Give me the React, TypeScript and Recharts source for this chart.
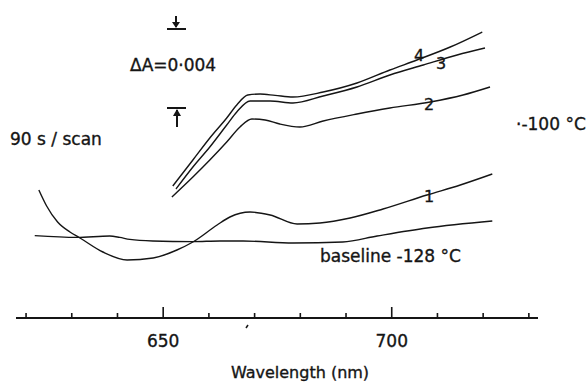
import React from "react";
import { LineChart, Line, XAxis, YAxis } from "recharts";

// wavelength (nm) and relative absorbance (units of 0.001)
const wl1 = [622.8, 624.5, 626.9, 629.6, 631.8, 636.8, 642.1, 647.8, 653.0, 656.5, 661.8, 664.6, 669.0, 673.4, 679.3, 684.3, 690.9, 698.1, 707.7, 715.0, 722.0];
const abs1 = [6.4, 5.6, 4.8, 4.3, 4.0, 3.3, 2.9, 3.0, 3.4, 3.8, 4.65, 5.05, 5.3, 5.15, 4.7, 4.75, 5.0, 5.45, 6.15, 6.65, 7.2];

const wl2 = [651.9, 656.5, 660.2, 663.9, 666.8, 669.4, 672.3, 675.5, 679.9, 685.0, 692.4, 699.6, 708.4, 715.6, 721.5];
const abs2 = [6.05, 7.05, 7.9, 8.8, 9.55, 9.95, 9.9, 9.7, 9.55, 9.85, 10.2, 10.5, 10.8, 11.15, 11.55];

const wl3 = [652.8, 656.5, 660.2, 663.9, 666.1, 669.0, 673.4, 678.4, 685.0, 692.4, 699.6, 706.9, 714.3, 720.4];
const abs3 = [6.45, 7.55, 8.55, 9.65, 10.3, 10.85, 10.85, 10.75, 11.1, 11.55, 12.15, 12.65, 13.15, 13.5];

const wl4 = [652.1, 656.5, 660.2, 663.9, 666.1, 668.5, 671.2, 674.5, 678.4, 685.0, 692.4, 699.6, 705.5, 712.8, 719.8];
const abs4 = [6.6, 7.9, 9.0, 10.0, 10.65, 11.15, 11.2, 11.13, 11.05, 11.3, 11.75, 12.4, 12.9, 13.55, 14.3];

const wlBase = [621.9, 631.1, 638.3, 640.5, 642.7, 647.7, 656.5, 662.4, 667.5, 678.4, 689.3, 696.8, 707.7, 722.0];
const absBase = [4.12, 4.03, 4.1, 4.03, 3.93, 3.85, 3.82, 3.85, 3.85, 3.75, 3.8, 4.1, 4.5, 4.85];

const xTicks = [620, 630, 640, 650, 660, 670, 680, 690, 700, 710, 720, 730];
const labelledTicks = [650, 700];

const zip = (wl: number[], a: number[]) => wl.map((w, i) => ({ wl: w, a: a[i] }));

const curves = [
  { key: "base", data: zip(wlBase, absBase) },
  { key: "c1", data: zip(wl1, abs1) },
  { key: "c2", data: zip(wl2, abs2) },
  { key: "c3", data: zip(wl3, abs3) },
  { key: "c4", data: zip(wl4, abs4) },
];

const ink = "#151515";
const font = "'DejaVu Sans', sans-serif";

const AxisTick = (props: any) => {
  const { x, y, payload } = props;
  const major = labelledTicks.includes(payload.value);
  return (
    <g>
      <line x1={x} x2={x} y1={y} y2={y - (major ? 11 : 5)} stroke={ink} strokeWidth={1.6} />
      {major && (
        <text x={x} y={y + 29} textAnchor="middle" fontSize={17} fontFamily={font} fill={ink} stroke={ink} strokeWidth={0.35}>
          {payload.value}
        </text>
      )}
    </g>
  );
};

export default function App() {
  return (
    <div style={{ position: "absolute", left: 0, top: 0, width: 588, height: 384, background: "#fff" }}>
      <LineChart width={588} height={384} margin={{ top: 18, right: 50, left: 16, bottom: 36 }}>
        <XAxis
          dataKey="wl"
          type="number"
          domain={[617.8, 732]}
          allowDataOverflow
          ticks={xTicks}
          interval={0}
          height={30}
          tickSize={0}
          tickMargin={0}
          tickLine={false}
          axisLine={{ stroke: ink, strokeWidth: 2 }}
          tick={<AxisTick />}
        />
        <YAxis type="number" domain={[0, 15]} hide />
        {curves.map((c) => (
          <Line
            key={c.key}
            data={c.data}
            dataKey="a"
            type="monotone"
            stroke={ink}
            strokeWidth={1.4}
            dot={false}
            isAnimationActive={false}
          />
        ))}
      </LineChart>

      {/* annotations */}
      <svg width={588} height={384} style={{ position: "absolute", left: 0, top: 0, pointerEvents: "none" }}>
        <g stroke={ink} strokeWidth={2} fill={ink}>
          <line x1={176} x2={176} y1={16} y2={27} />
          <polygon points="172,22 180,22 176,28" strokeWidth={0} />
          <line x1={167} x2={186} y1={29} y2={29} />
          <line x1={167} x2={186} y1={108} y2={108} />
          <line x1={177} x2={177} y1={110} y2={127} />
          <polygon points="173,116 181,116 177,109" strokeWidth={0} />
          <line x1={246} x2={248} y1={328} y2={325} strokeWidth={1.5} />
        </g>
        <g fontFamily={font} fill={ink} stroke={ink} strokeWidth={0.35}>
          <text x={130} y={71} fontSize={17}>ΔA=0·004</text>
          <text x={10} y={145} fontSize={17}>90 s / scan</text>
          <text x={516} y={130} fontSize={17}>·-100 °C</text>
          <text x={320} y={262} fontSize={17}>baseline -128 °C</text>
          <text x={300} y={378} fontSize={16} textAnchor="middle">Wavelength (nm)</text>
          <text x={419} y={61} fontSize={16} textAnchor="middle">4</text>
          <text x={441} y={69} fontSize={16} textAnchor="middle">3</text>
          <text x={429} y={110} fontSize={16} textAnchor="middle">2</text>
          <text x={429} y={202} fontSize={16} textAnchor="middle">1</text>
        </g>
      </svg>
    </div>
  );
}
